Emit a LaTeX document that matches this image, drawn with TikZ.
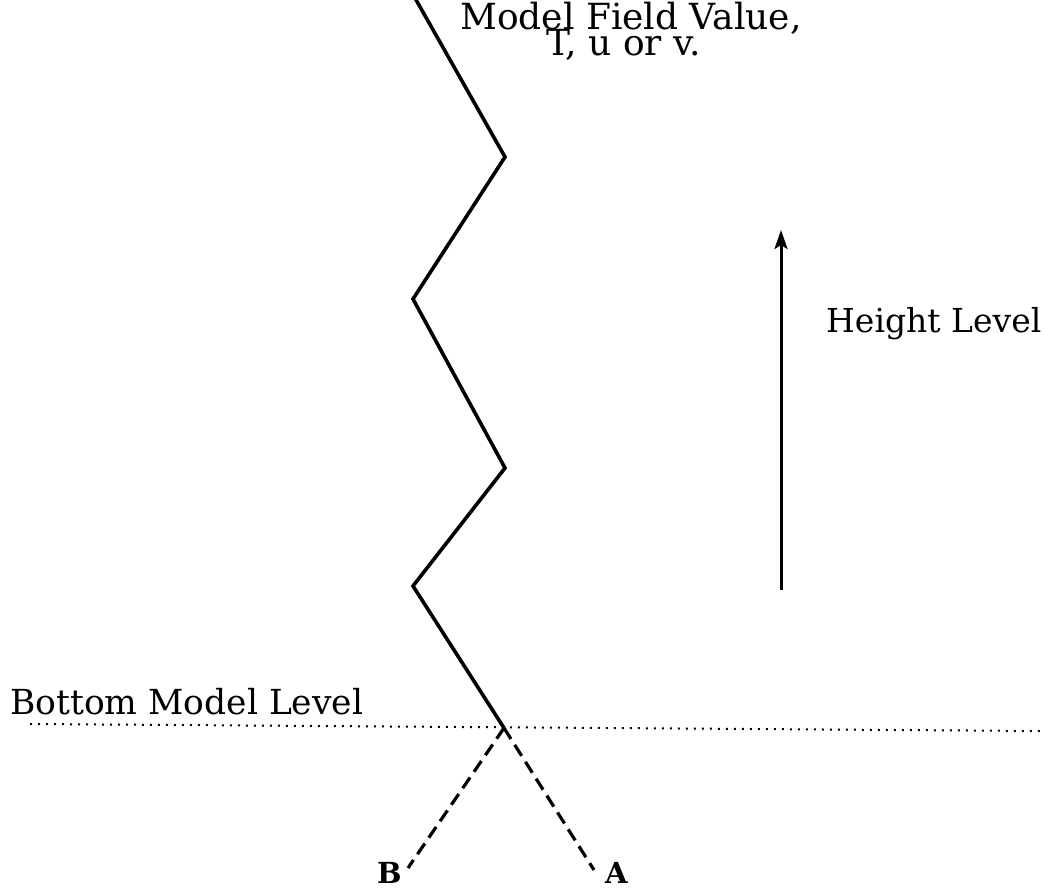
\documentclass[tikz,border=0pt]{standalone}
\usepackage{fontspec}
\setmainfont{DejaVu Serif}
\usetikzlibrary{arrows.meta}
\begin{document}
\begin{tikzpicture}[x=1pt,y=-1pt,
  zig/.style={line width=3.6pt, line join=miter},
  dotline/.style={line width=2pt, dash pattern=on 2pt off 6pt},
  dashline/.style={line width=3.2pt, dash pattern=on 13pt off 7pt},
  uparrow/.style={line width=3pt, -{Stealth[length=19pt,width=13pt,inset=4pt]}},
  lbl/.style={font=\fontsize{34.5}{34.5}\selectfont, inner sep=0pt},
  toplbl/.style={font=\fontsize{36}{36}\selectfont, inner sep=0pt},
  ptlbl/.style={font=\bfseries\fontsize{29}{29}\selectfont, inner sep=0pt}]
\useasboundingbox (0,0) rectangle (1044,890);
\coordinate (p0) at (415,-2);
\coordinate (p1) at (505,157);
\coordinate (p2) at (413,299);
\coordinate (p3) at (505,468);
\coordinate (p4) at (413,586);
\coordinate (p5) at (504,728);
\coordinate (dl) at (30,724);
\coordinate (dr) at (1040,731);
\coordinate (be) at (408,868);
\coordinate (ae) at (594,870);
\coordinate (ab) at (781,590);
\coordinate (at) at (781,230);
\draw[zig] (p0) -- (p1) -- (p2) -- (p3) -- (p4) -- (p5);
\draw[dotline] (dl) -- (dr);
\draw[dashline] (p5) -- (be);
\draw[dashline] (p5) -- (ae);
\draw[uparrow] (ab) -- (at);
\node[toplbl, anchor=base west] (mfv1) at (460,30) {Model Field Value,};
\node[toplbl, anchor=base] (mfv2) at (624,56) {T, u or v.};
\node[lbl, font=\fontsize{33}{33}\selectfont, anchor=base west] (hl) at (826,333) {Height Level};
\node[lbl, anchor=base west] (bml) at (10,714) {Bottom Model Level};
\node[ptlbl, anchor=base west] (lb) at (377,883) {B};
\node[ptlbl, anchor=base west] (la) at (605,883) {A};
\end{tikzpicture}
\end{document}
